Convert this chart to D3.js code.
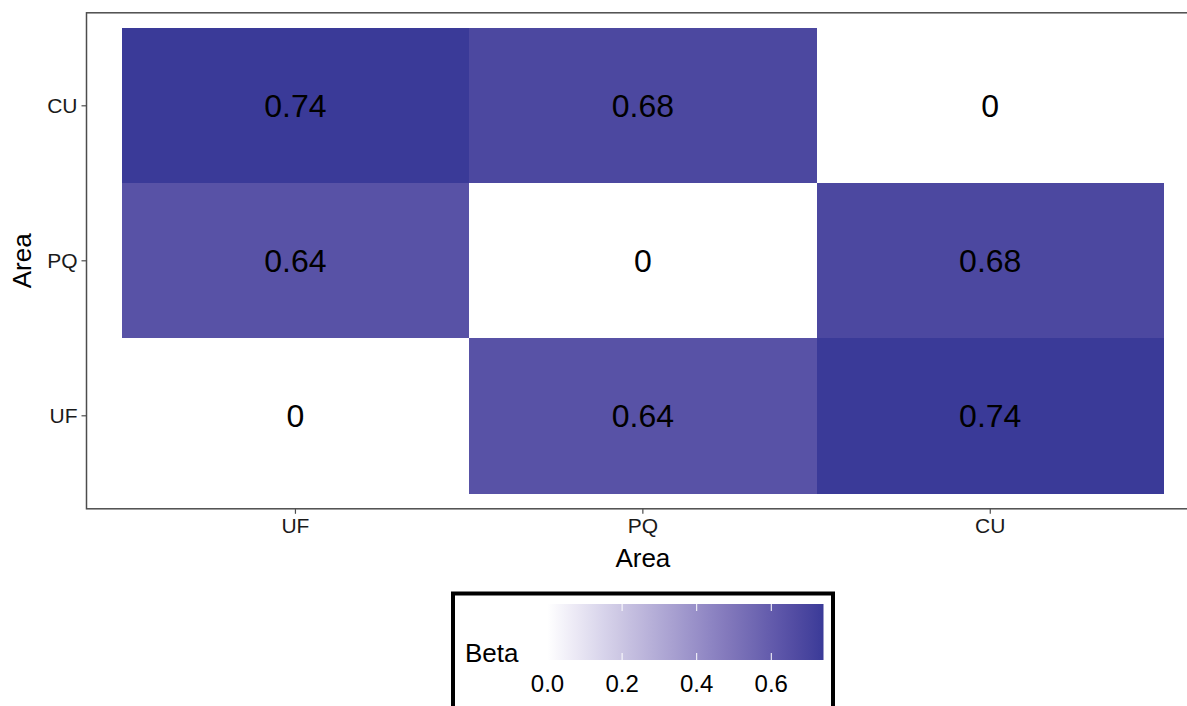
<!DOCTYPE html>
<html>
<head>
<meta charset="utf-8">
<script src="https://cdn.jsdelivr.net/npm/d3@7"></script>
<style>
body { margin: 0; background: #fff; }
svg { display: block; font-family: "Liberation Sans", Arial, sans-serif; }
</style>
</head>
<body>
<svg id="chart" width="1187" height="706"></svg>
<script>
(function() {
'use strict';

var xCats = ['UF', 'PQ', 'CU'];
var yCats = ['CU', 'PQ', 'UF'];   // top to bottom
// beta[row][col], rows follow yCats, cols follow xCats
var beta = [
    [0.74, 0.68, 0],
    [0.64, 0, 0.68],
    [0, 0.64, 0.74]
];
var legendTicks = [0.0, 0.2, 0.4, 0.6];
var betaMax = 0.74;

var cells = [];
yCats.forEach(function(yc, i) {
    xCats.forEach(function(xc, j) {
        cells.push({ x: xc, y: yc, v: beta[i][j] });
    });
});

var svg = d3.select('#chart');

var x = d3.scaleBand().domain(xCats).range([87, 1198.7]).paddingInner(0).paddingOuter(0.1);
var y = d3.scaleBand().domain(yCats).range([12.8, 508.8]).paddingInner(0).paddingOuter(0.1);

var color = d3.scaleLinear()
    .domain([0, betaMax])
    .range(['#ffffff', '#3a3a98'])
    .interpolate(d3.interpolateLab);

// tiles
svg.append('g')
    .attr('shape-rendering', 'crispEdges')
    .selectAll('rect')
    .data(cells)
    .enter()
    .append('rect')
    .attr('x', function(d) { return x(d.x); })
    .attr('y', function(d) { return y(d.y); })
    .attr('width', x.bandwidth() + 0.5)
    .attr('height', y.bandwidth() + 0.5)
    .attr('fill', function(d) { return color(d.v); });

// tile labels
svg.append('g')
    .selectAll('text')
    .data(cells)
    .enter()
    .append('text')
    .attr('x', function(d) { return x(d.x) + x.bandwidth() / 2; })
    .attr('y', function(d) { return y(d.y) + y.bandwidth() / 2; })
    .attr('dy', '0.36em')
    .attr('text-anchor', 'middle')
    .attr('font-size', 32)
    .attr('fill', '#000')
    .text(function(d) { return d.v === 0 ? '0' : d3.format('.2f')(d.v); });

// panel border
var px0 = x.range()[0], px1 = x.range()[1], py0 = y.range()[0], py1 = y.range()[1];
svg.append('rect')
    .attr('x', px0 - 0.5)
    .attr('y', py0)
    .attr('width', px1 - px0)
    .attr('height', py1 - py0)
    .attr('fill', 'none')
    .attr('stroke', '#4d4d4d')
    .attr('stroke-width', 1.5);

// axes
var xAxis = svg.append('g')
    .attr('transform', 'translate(0,' + py1 + ')')
    .call(d3.axisBottom(x).tickSize(5).tickPadding(4));
var yAxis = svg.append('g')
    .attr('transform', 'translate(' + (px0 - 0.5) + ',0)')
    .call(d3.axisLeft(y).tickSize(5).tickPadding(4));
[xAxis, yAxis].forEach(function(a) {
    a.select('.domain').remove();
    a.selectAll('.tick line').attr('stroke', '#4d4d4d').attr('stroke-width', 1.2);
    a.selectAll('.tick text')
        .attr('font-size', 21)
        .attr('font-family', '"Liberation Sans", Arial, sans-serif')
        .attr('fill', '#1a1a1a');
});

svg.append('text')
    .attr('x', (px0 + px1) / 2)
    .attr('y', 567)
    .attr('text-anchor', 'middle')
    .attr('font-size', 26)
    .text('Area');
svg.append('text')
    .attr('transform', 'translate(31,' + ((py0 + py1) / 2) + ') rotate(-90)')
    .attr('text-anchor', 'middle')
    .attr('font-size', 26)
    .text('Area');

// legend
var lg = svg.append('g');
lg.append('rect')
    .attr('x', 453)
    .attr('y', 593.5)
    .attr('width', 380)
    .attr('height', 130)
    .attr('fill', '#fff')
    .attr('stroke', '#000')
    .attr('stroke-width', 4);

var lx = d3.scaleLinear().domain([0, betaMax]).range([547.5, 823.5]);
var barTop = 604, barH = 56;

var grad = svg.append('defs')
    .append('linearGradient')
    .attr('id', 'betaGrad')
    .attr('x1', '0%').attr('x2', '100%')
    .attr('y1', '0%').attr('y2', '0%');
d3.range(0, 21).forEach(function(i) {
    var t = i / 20;
    grad.append('stop')
        .attr('offset', (t * 100) + '%')
        .attr('stop-color', color(t * betaMax));
});

lg.append('rect')
    .attr('x', lx(0))
    .attr('y', barTop)
    .attr('width', lx(betaMax) - lx(0))
    .attr('height', barH)
    .attr('fill', 'url(#betaGrad)');

legendTicks.forEach(function(t) {
    lg.append('line')
        .attr('x1', lx(t)).attr('x2', lx(t))
        .attr('y1', barTop).attr('y2', barTop + 7)
        .attr('stroke', '#fff').attr('stroke-width', 1);
    lg.append('line')
        .attr('x1', lx(t)).attr('x2', lx(t))
        .attr('y1', barTop + barH - 7).attr('y2', barTop + barH)
        .attr('stroke', '#fff').attr('stroke-width', 1);
});

lg.selectAll('text.lab')
    .data(legendTicks)
    .enter()
    .append('text')
    .attr('class', 'lab')
    .attr('x', function(d) { return lx(d); })
    .attr('y', 692)
    .attr('text-anchor', 'middle')
    .attr('font-size', 24)
    .attr('fill', '#000')
    .text(function(d) { return d3.format('.1f')(d); });

lg.append('text')
    .attr('x', 465)
    .attr('y', 662)
    .attr('font-size', 26)
    .text('Beta');

})();
</script>
</body>
</html>
